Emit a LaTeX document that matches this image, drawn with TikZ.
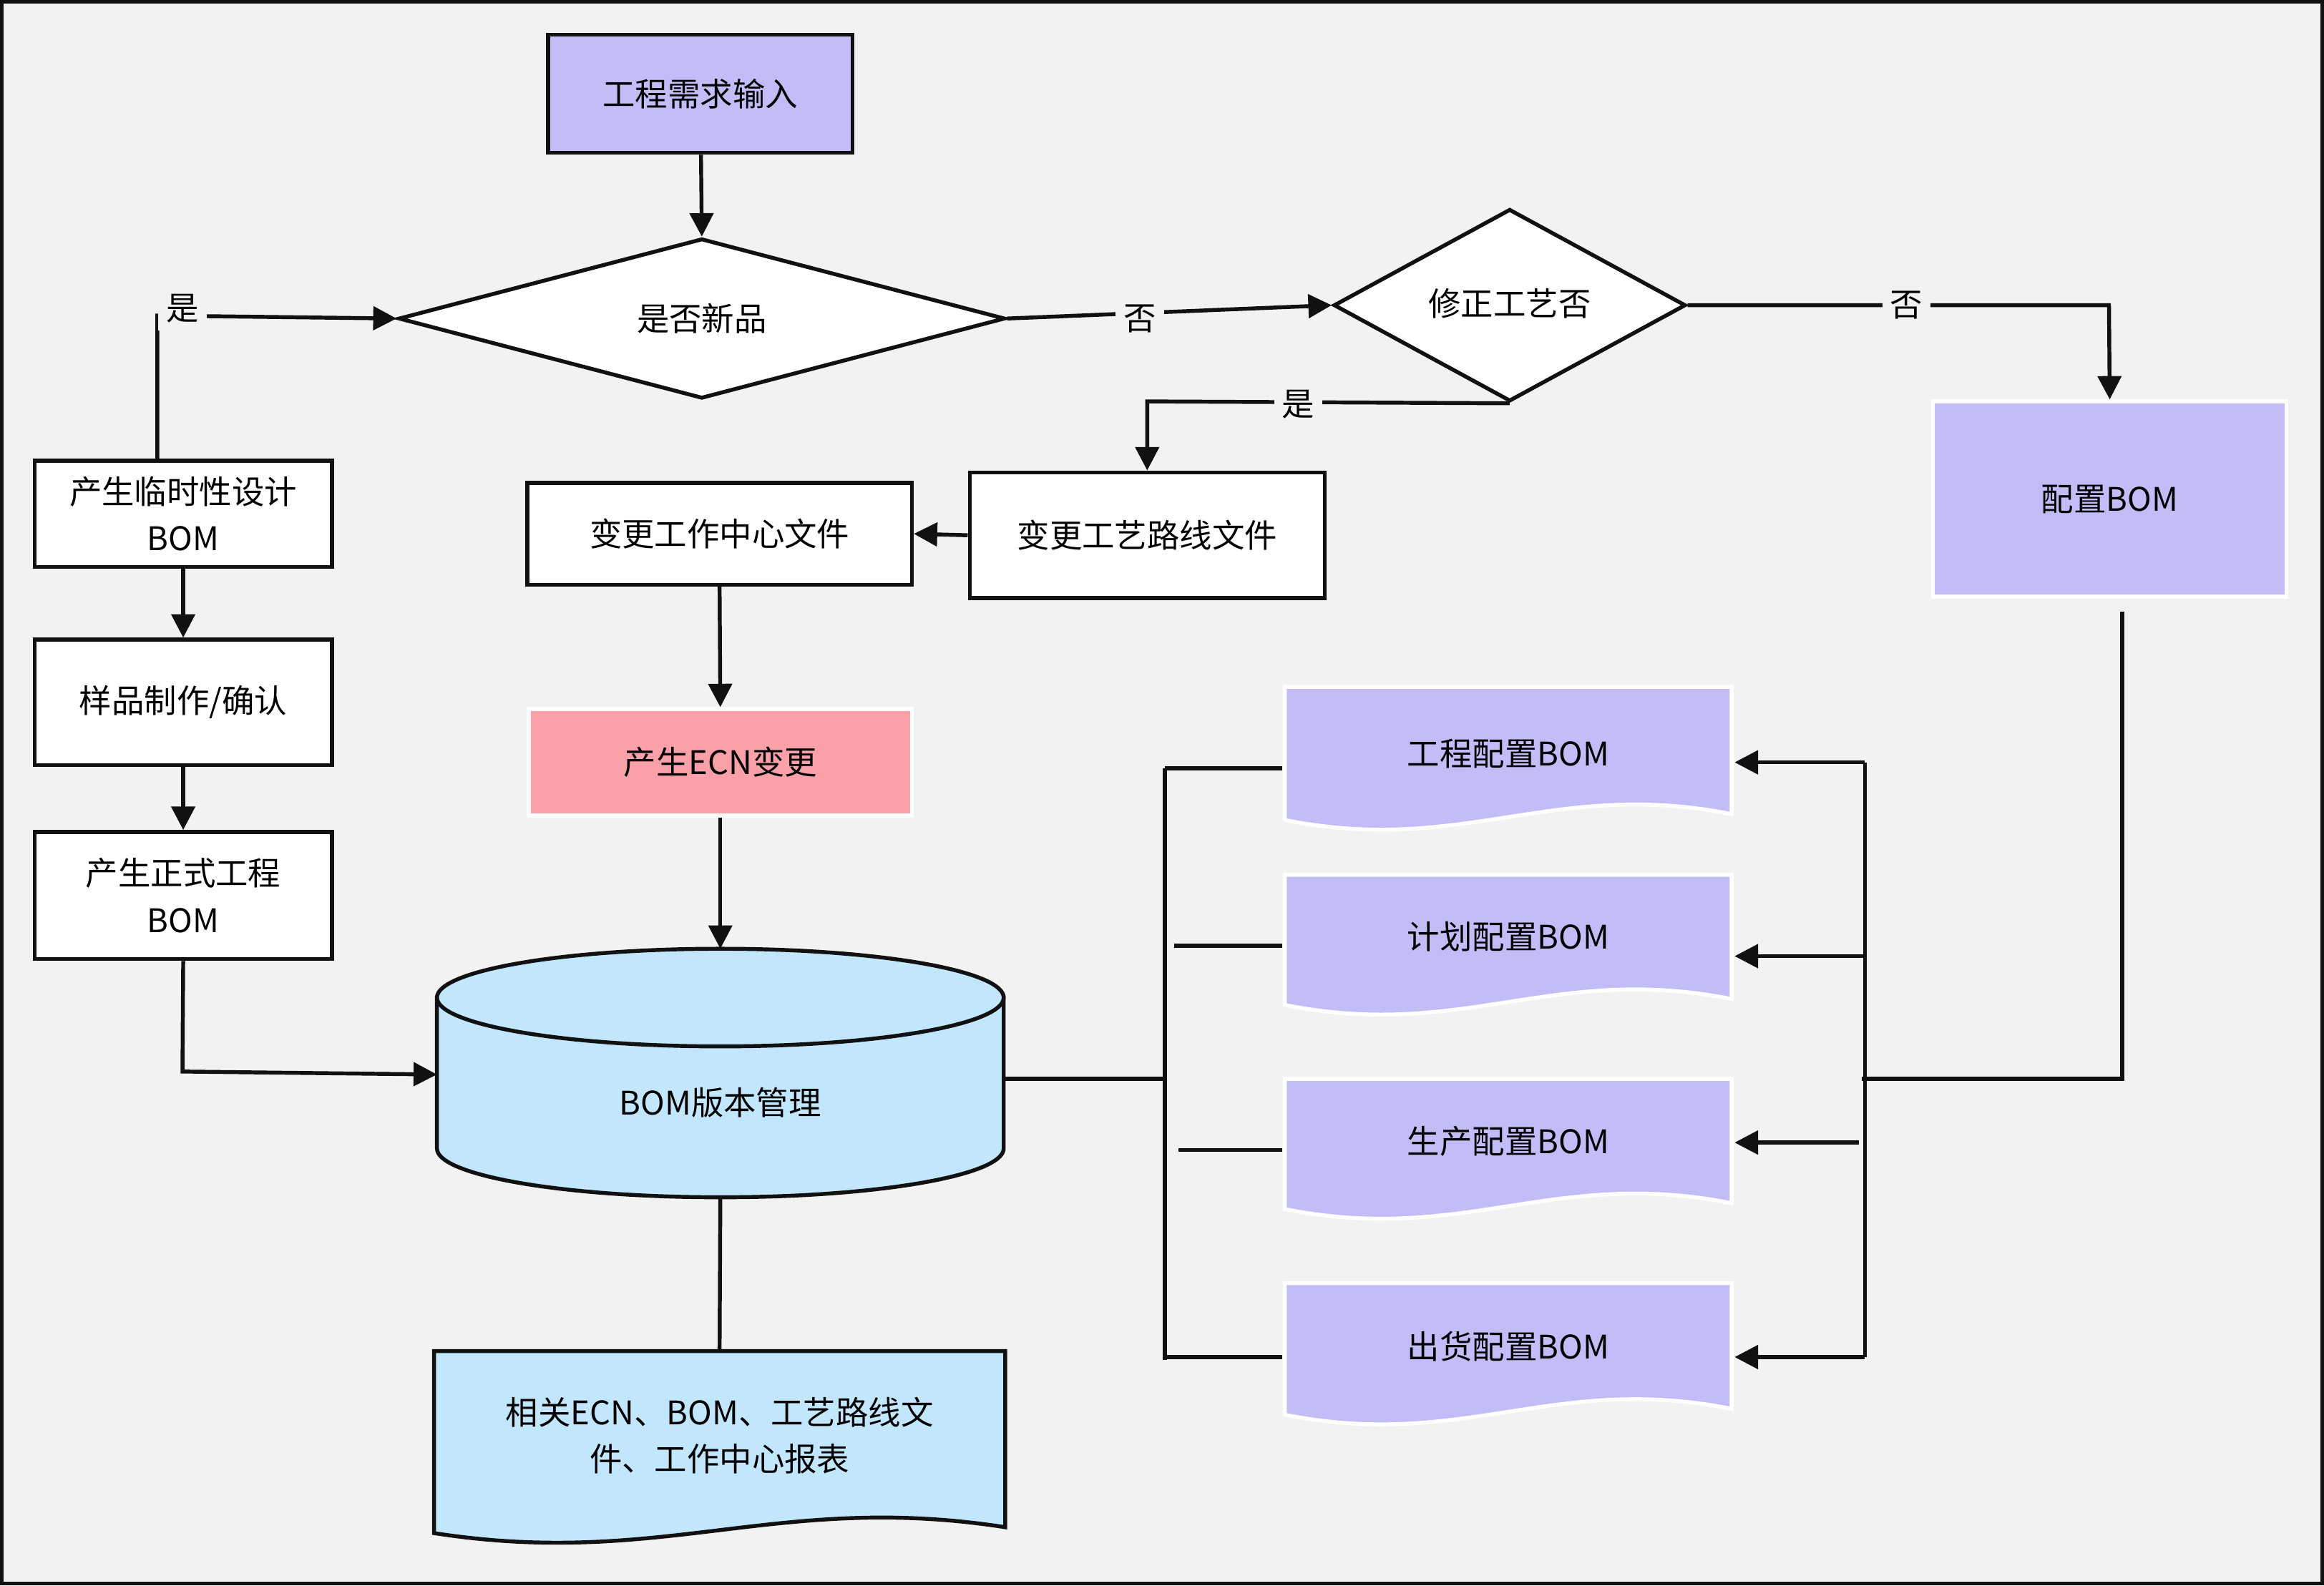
\documentclass[tikz,border=0pt]{standalone}
\usepackage{fontspec}
\setmainfont{Noto Sans CJK SC}
\usetikzlibrary{shapes.geometric,arrows.meta}
\definecolor{bg}{HTML}{F2F2F2}
\definecolor{lav}{HTML}{C2BDF7}
\definecolor{pinkc}{HTML}{F9A0A8}
\definecolor{bluec}{HTML}{C2E7FD}
\definecolor{ln}{HTML}{111111}
\newcommand\wavedoc[6]{%
\filldraw[fill=#5, draw=#6, line width=1.5pt] (#1,#2) -- (#3,#2) -- ({#3},{#4-14})
 .. controls ({#1+0.6*(#3-#1)},{#4-38}) and ({#1+0.4*(#3-#1)},{#4+14}) .. ({#1},{#4-10}) -- cycle;}
\begin{document}
\begin{tikzpicture}[x=0.02cm,y=-0.02cm,
  font=\fontsize{12.5}{18}\selectfont,
  every path/.style={line width=1.5pt, draw=ln},
  box/.style={draw=ln, fill=white, line width=1.5pt, rectangle, align=center, inner sep=0pt},
  dia/.style={draw=ln, fill=white, line width=1.5pt, diamond, inner sep=0pt, align=center},
  lbl/.style={fill=bg, inner sep=3pt, draw=none},
  arr/.style={-{Triangle[length=9pt,width=9pt]}},
  txt/.style={draw=none, align=center, inner sep=0pt}]
\fill[bg, draw=none] (0,0) rectangle (1568,1069);
\useasboundingbox (0,0) rectangle (1568,1069);

\node[box, fill=lav, minimum width=4.12cm, minimum height=1.6cm] (in) at (472,62) {工程需求输入};
\node[dia, minimum width=8.2cm, minimum height=1.96cm] (d1) at (473,214) {是否新品};
\node[dia, minimum width=4.76cm, minimum height=2.6cm] (d2) at (1019,205) {};
\node[txt] (d2t) at (1019,204) {修正工艺否};
\node[box, minimum width=4.02cm, minimum height=1.44cm] (t1) at (122.5,346) {产生临时性设计\\BOM};
\node[box, minimum width=4.02cm, minimum height=1.7cm] (t2) at (122.5,473.5) {样品制作/确认};
\node[box, minimum width=4.02cm, minimum height=1.72cm] (t3) at (122.5,604) {产生正式工程\\BOM};
\node[box, minimum width=5.2cm, minimum height=1.38cm] (wc) at (485,359.5) {变更工作中心文件};
\node[box, minimum width=4.8cm, minimum height=1.7cm] (rt) at (774,360.5) {变更工艺路线文件};
\node[box, fill=pinkc, draw=white, minimum width=5.18cm, minimum height=1.44cm] (ecn) at (485.5,514) {产生ECN变更};
\node[box, fill=lav, draw=white, minimum width=4.78cm, minimum height=2.64cm] (cfg) at (1424.5,336) {配置BOM};

% cylinder
\filldraw[fill=bluec] (294,673) -- (294,775) arc[start angle=180,end angle=360,x radius=191.5,y radius=-33] -- (677,673) -- cycle;
\filldraw[fill=bluec] (485.5,673) ellipse[x radius=191.5, y radius=33];
\node[txt] (bom) at (485.5,744) {BOM版本管理};
\coordinate (cylT) at (485.5,640);
\coordinate (cylB) at (485.5,808);
\coordinate (cylW) at (294,725);
\coordinate (cylE) at (677,728);

% documents
\wavedoc{292}{912}{678}{1045}{bluec}{ln}
\node[txt] (rep) at (485,969) {相关ECN、BOM、工艺路线文\\件、工作中心报表};
\wavedoc{867}{463}{1169}{563}{lav}{white}
\node[txt] (b1) at (1018,508) {工程配置BOM};
\wavedoc{867}{590}{1169}{688}{lav}{white}
\node[txt] (b2) at (1018,632) {计划配置BOM};
\wavedoc{867}{728}{1169}{826}{lav}{white}
\node[txt] (b3) at (1018,770) {生产配置BOM};
\wavedoc{867}{866}{1169}{965}{lav}{white}
\node[txt] (b4) at (1018,909) {出货配置BOM};

% connectors
\draw[arr] (t1.north -| 105,0) -- (105,212) -- (d1.west);
\node[lbl] at (122,207) {是};
\draw[arr] (in) -- (d1.north);
\draw[arr] (d1.east) -- (d2.west);
\node[lbl] at (769,214) {否};
\draw[arr] (d2.east) -- (1424,205) -- (cfg.north);
\node[lbl] at (1287,205) {否};
\draw[arr] (d2.south) -- (774,270) -- (rt.north);
\node[lbl] at (876,272) {是};
\draw[arr] (rt.west) -- (wc.east);
\draw[arr] (wc.south) -- (ecn.north);
\draw[arr] (ecn.south) -- (cylT);
\draw[arr] (t1) -- (t2);
\draw[arr] (t2) -- (t3);
\draw[arr] (t3.south) -- (122,723) -- (cylW);
\draw (cylB) -- (rep.north |- 0,912);

\coordinate (j1) at (786,728);
\draw (cylE) -- (j1);
\draw (786,518) -- (786,918);
\draw (786,518) -- (865,518);
\draw (792,638) -- (865,638);
\draw (795,776) -- (865,776);
\draw (786,916) -- (865,916);

\coordinate (cfgb) at (1433,412);
\draw (cfgb) -- (1433,728) -- (1257,728);
\draw (1259,514) -- (1259,916);
\draw[arr] (1259,514) -- (1171,514);
\draw[arr] (1259,645) -- (1171,645);
\draw[arr] (1255,771) -- (1171,771);
\draw[arr] (1259,916) -- (1171,916);
\end{tikzpicture}
\end{document}
